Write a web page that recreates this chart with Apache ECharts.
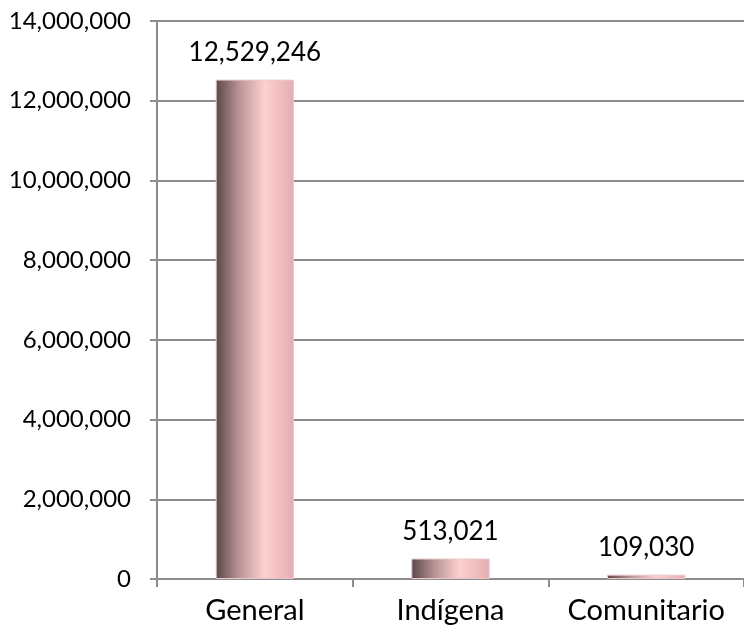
<!DOCTYPE html>
<html><head><meta charset="utf-8">
<script src="https://cdn.jsdelivr.net/npm/echarts@6/dist/echarts.min.js"></script>
<style>html,body{margin:0;padding:0;background:#fff}#c{width:744px;height:634px}</style>
</head><body><div id="c"></div>
<script>
const categories = ["General", "Indígena", "Comunitario"];
const values = [12529246, 513021, 109030];
const yTicks = [0, 2000000, 4000000, 6000000, 8000000, 10000000, 12000000, 14000000];

const fmt = v => v.toLocaleString('en-US');
const chart = echarts.init(document.getElementById('c'));
const grad = new echarts.graphic.LinearGradient(0, 0, 1, 0, [
  {offset: 0, color: '#5a464a'},
  {offset: 0.3, color: '#b89496'},
  {offset: 0.62, color: '#ffd0d0'},
  {offset: 1, color: '#e3adb0'}
]);
chart.setOption({
  animation: false,
  grid: {left: 157, right: -2, top: 21, bottom: 55},
  xAxis: {
    type: 'category', data: categories,
    axisLine: {lineStyle: {color: '#8c8c8c', width: 2}},
    axisTick: {show: true, length: 8, lineStyle: {color: '#8c8c8c', width: 2}},
    axisLabel: {fontFamily: 'Lato', fontSize: 29, color: '#000', margin: 17, interval: 0, hideOverlap: false}
  },
  yAxis: {
    type: 'value', min: yTicks[0], max: yTicks[yTicks.length - 1], interval: 2000000,
    axisLine: {show: true, lineStyle: {color: '#8c8c8c', width: 2}},
    axisTick: {show: true, length: 7, lineStyle: {color: '#8c8c8c', width: 2}},
    splitLine: {lineStyle: {color: '#8c8c8c', width: 2}},
    axisLabel: {fontFamily: 'Lato', fontSize: 24, color: '#000', margin: 26, formatter: fmt}
  },
  series: [{
    type: 'bar', data: values, barWidth: '40%',
    itemStyle: {color: grad, borderColor: '#e8c8c8', borderWidth: 1},
    label: {show: true, position: 'top', distance: 14, fontFamily: 'Lato', fontSize: 26, color: '#000',
      formatter: p => fmt(p.value)}
  }]
});
</script></body></html>
